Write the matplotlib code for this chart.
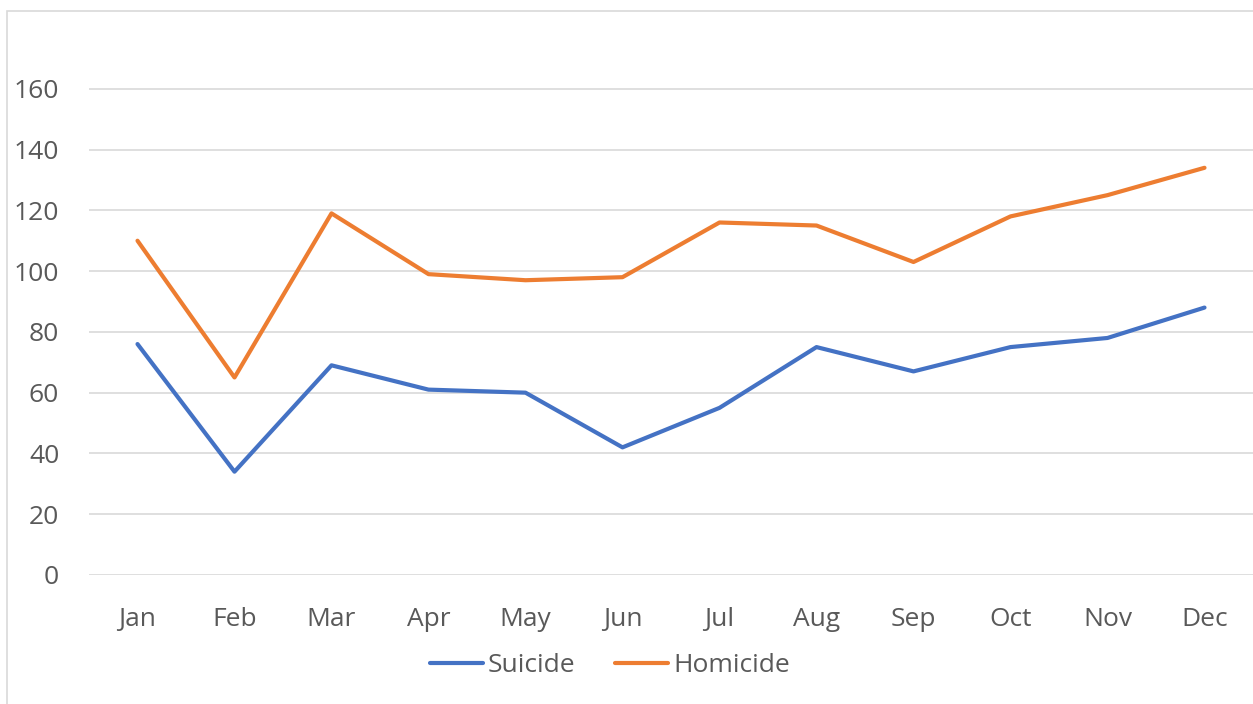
import matplotlib.pyplot as plt
from matplotlib.patches import Rectangle

MONTHS = ["Jan", "Feb", "Mar", "Apr", "May", "Jun",
          "Jul", "Aug", "Sep", "Oct", "Nov", "Dec"]
SUICIDE = [76, 34, 69, 61, 60, 42, 55, 75, 67, 75, 78, 88]
HOMICIDE = [110, 65, 119, 99, 97, 98, 116, 115, 103, 118, 125, 134]
Y_TICKS = [0, 20, 40, 60, 80, 100, 120, 140, 160]

TEXT = "#595959"
GRID = "#D9D9D9"

plt.rcParams['font.family'] = ['Open Sans', 'DejaVu Sans']

W, H = 1253, 704
fig = plt.figure(figsize=(W / 100, H / 100), dpi=100)

# chart border (light gray, runs off the right/bottom edge)
fig.patches.append(Rectangle((7 / W, -0.1), 1.2, 1 - 11 / H + 0.1,
                             transform=fig.transFigure, fill=False,
                             edgecolor=GRID, linewidth=1.2))

ax = fig.add_axes([89 / W, 1 - 575 / H, (1253 - 89) / W, (575 - 28) / H])
x = range(len(MONTHS))
ax.plot(x, SUICIDE, color="#4472C4", linewidth=3, label="Suicide",
        solid_capstyle="round", solid_joinstyle="round")
ax.plot(x, HOMICIDE, color="#ED7D31", linewidth=3, label="Homicide",
        solid_capstyle="round", solid_joinstyle="round")

ax.set_xlim(-0.5, len(MONTHS) - 0.5)
ax.set_ylim(0, 180)
ax.set_yticks(Y_TICKS)
ax.set_xticks(list(x))
ax.set_xticklabels(MONTHS)
ax.yaxis.grid(True, color=GRID, linewidth=1.2)
ax.set_axisbelow(True)
for s in ax.spines.values():
    s.set_visible(False)
ax.tick_params(axis="both", length=0, labelsize=19, labelcolor=TEXT)
ax.tick_params(axis="y", pad=21.5)
ax.tick_params(axis="x", pad=23)

fig.legend(loc="center", bbox_to_anchor=(610 / W, 1 - 666 / H), ncol=2,
           frameon=False, fontsize=19, labelcolor=TEXT, handlelength=2.0,
           handletextpad=0.2, columnspacing=1.5)

fig.savefig("out.png", dpi=100)
